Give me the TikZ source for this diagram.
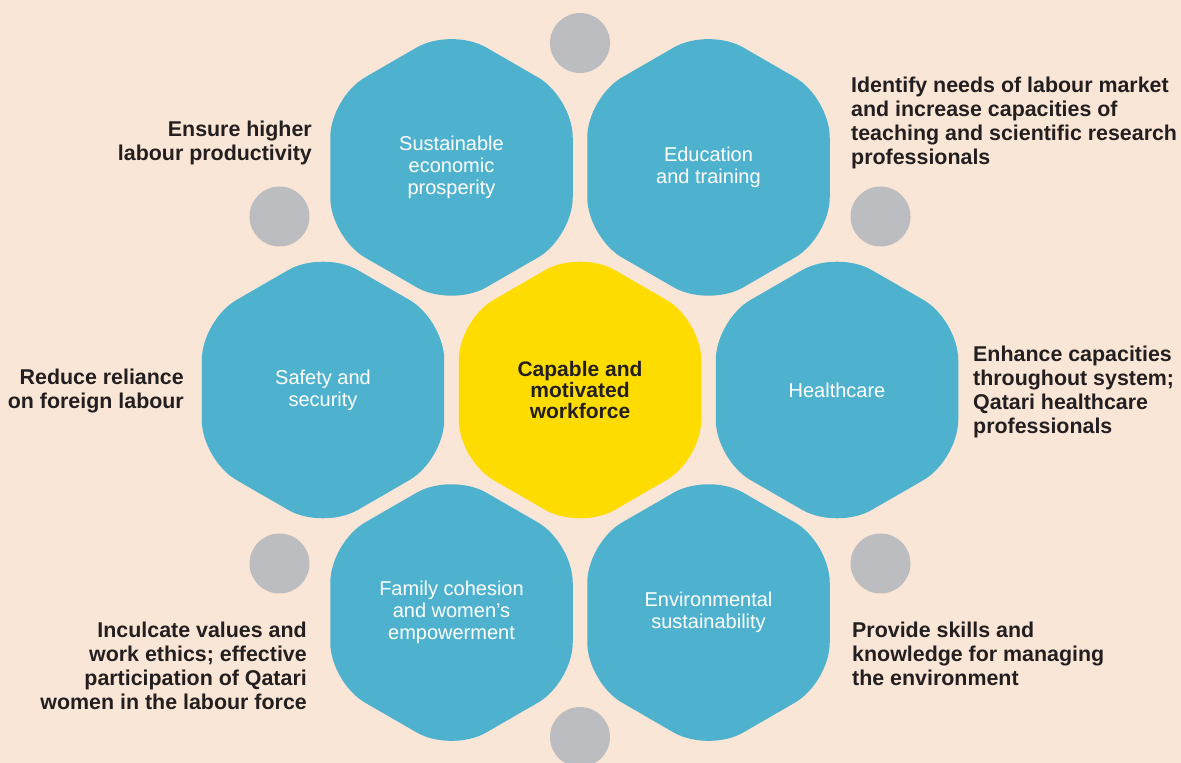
\documentclass[tikz,border=0pt]{standalone}
\usepackage{fontspec}
\setmainfont{Liberation Sans}
\usetikzlibrary{shapes.geometric, positioning, calc}

\definecolor{bgpeach}{RGB}{250,230,214}
\definecolor{hexblue}{RGB}{78,178,207}
\definecolor{coreyellow}{RGB}{255,220,0}
\definecolor{spotgray}{RGB}{188,189,193}
\definecolor{inkdark}{RGB}{35,31,32}

\begin{document}
\begin{tikzpicture}[
    x=1pt, y=1pt,
    % Define styles
    hexcell/.style={regular polygon, regular polygon sides=6, shape border rotate=30, minimum size=280pt, inner sep=0pt, rounded corners=40pt, fill=hexblue, text=white, align=center, font=\fontsize{20}{22}\selectfont},
    corecell/.style={hexcell, fill=coreyellow, text=inkdark, font=\bfseries\fontsize{21}{21}\selectfont},
    spot/.style={circle, fill=spotgray, minimum size=60pt, inner sep=0pt},
    goaltext/.style={inner sep=0pt, text=inkdark, font=\bfseries\fontsize{21.4}{24}\selectfont}
]

% Background and page size
\fill[bgpeach] (0,0) rectangle (1181,763);
\useasboundingbox (0,0) rectangle (1181,763);

% 1. Core cell
\node[corecell] (core) at (580,373) {Capable and\\motivated\\workforce};

% 2. Surrounding cells
\node[hexcell] (economy) at ($(core)+(120:257)$) {Sustainable\\economic\\prosperity};
\node[hexcell] (education) at ($(core)+(60:257)$) {Education\\and training};
\node[hexcell] (safety) at ($(core)+(180:257)$) {Safety and\\security};
\node[hexcell] (health) at ($(core)+(0:257)$) {Healthcare};
\node[hexcell] (family) at ($(core)+(240:257)$) {Family cohesion\\and women's\\empowerment};
\node[hexcell] (environment) at ($(core)+(300:257)$) {Environmental\\sustainability};

% 3. Grey spots between the cells
\foreach \ang [count=\i] in {90,30,330,270,210,150}
    \node[spot] (spot\i) at ($(core)+(\ang:347)$) {};

% 4. Goals
\node[goaltext, anchor=north east, align=right] (goalEconomy) at (312,642) {Ensure higher\\labour productivity};
\node[goaltext, anchor=north west, align=left] (goalEducation) at (851,686) {Identify needs of labour market\\and increase capacities of\\teaching and scientific research\\professionals};
\node[goaltext, anchor=north east, align=right] (goalSafety) at (184,394) {Reduce reliance\\on foreign labour};
\node[goaltext, anchor=north west, align=left] (goalHealth) at (973,417) {Enhance capacities\\throughout system;\\Qatari healthcare\\professionals};
\node[goaltext, anchor=north east, align=right] (goalFamily) at (307,141) {Inculcate values and\\work ethics; effective\\participation of Qatari\\women in the labour force};
\node[goaltext, anchor=north west, align=left] (goalEnvironment) at (852,141) {Provide skills and\\knowledge for managing\\the environment};

\end{tikzpicture}
\end{document}
